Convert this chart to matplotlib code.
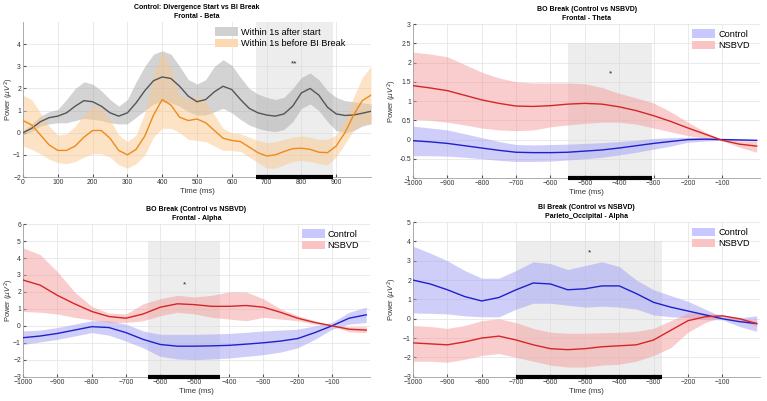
import numpy as np
import matplotlib
matplotlib.use("Agg")
import matplotlib.pyplot as plt
from matplotlib.patches import Patch

plt.rcParams['font.family'] = ['Liberation Sans', 'DejaVu Sans']

# ---------------- Panel 1 (top-left) ----------------
t1 = list(range(0, 1001, 25))
gray_mean = [0.0, 0.2, 0.5, 0.68, 0.75, 0.9, 1.2, 1.45, 1.4, 1.2, 0.9, 0.75, 0.9, 1.35, 1.9, 2.35, 2.52,
             2.45, 2.1, 1.65, 1.4, 1.5, 1.85, 2.1, 1.95, 1.5, 1.1, 0.9, 0.8, 0.75, 0.85, 1.2, 1.8, 2.0, 1.7,
             1.15, 0.85, 0.78, 0.8, 0.88, 0.97]
gray_up = [0.1, 0.4, 0.75, 0.95, 1.05, 1.5, 2.0, 2.3, 2.2, 1.9, 1.5, 1.2, 1.5, 2.3, 3.0, 3.55, 3.7, 3.55,
           3.0, 2.4, 2.2, 2.4, 3.0, 3.3, 3.05, 2.5, 2.0, 1.75, 1.6, 1.5, 1.6, 2.0, 2.5, 2.7, 2.4, 1.9, 1.6,
           1.45, 1.4, 1.35, 1.3]
gray_lo = [-0.1, 0.05, 0.3, 0.4, 0.45, 0.45, 0.55, 0.65, 0.6, 0.55, 0.45, 0.4, 0.4, 0.7, 1.0, 1.3, 1.4,
           1.35, 1.2, 0.95, 0.8, 0.8, 0.95, 1.1, 0.9, 0.6, 0.35, 0.2, 0.1, 0.05, 0.15, 0.5, 1.1, 1.3, 1.0,
           0.5, 0.1, 0.0, 0.1, 0.3, 0.4]
orange_mean = [0.55, 0.35, -0.1, -0.55, -0.8, -0.8, -0.6, -0.2, 0.1, 0.1, -0.25, -0.8, -1.0, -0.75, -0.15,
               0.8, 1.5, 1.25, 0.7, 0.55, 0.62, 0.45, 0.1, -0.25, -0.35, -0.4, -0.65, -0.9, -1.05, -1.0,
               -0.85, -0.72, -0.7, -0.75, -0.88, -0.9, -0.6, 0.0, 0.8, 1.45, 1.7]
orange_up = [1.7, 1.5, 0.9, 0.3, -0.1, -0.05, 0.3, 0.8, 1.2, 1.1, 0.6, -0.1, -0.4, -0.1, 0.9, 2.6, 3.7, 2.9,
             1.7, 1.5, 1.65, 1.4, 0.8, 0.2, 0.0, -0.05, -0.2, -0.35, -0.45, -0.4, -0.3, -0.2, -0.15, -0.2,
             -0.3, -0.3, -0.1, 0.6, 1.6, 2.5, 3.0]
orange_lo = [-0.6, -0.75, -0.95, -1.2, -1.35, -1.4, -1.3, -1.1, -0.95, -0.95, -1.1, -1.45, -1.6, -1.4, -1.0,
             -0.2, 0.2, 0.2, 0.0, -0.3, -0.35, -0.4, -0.6, -0.8, -0.8, -0.85, -1.1, -1.35, -1.6, -1.6,
             -1.45, -1.3, -1.25, -1.3, -1.4, -1.45, -1.1, -0.5, 0.1, 0.4, 0.4]

# ---------------- Panel 2 (top-right) ----------------
t2 = list(range(-1000, 1, 50))
tr_red_mean = [1.4, 1.34, 1.27, 1.15, 1.03, 0.94, 0.87, 0.86, 0.88, 0.92, 0.94, 0.92, 0.85, 0.75, 0.62,
               0.47, 0.3, 0.14, -0.02, -0.12, -0.17]
tr_red_up = [2.27, 2.22, 2.15, 1.95, 1.75, 1.6, 1.5, 1.47, 1.47, 1.47, 1.45, 1.35, 1.2, 1.08, 0.95,
             0.72, 0.45, 0.2, -0.01, -0.03, -0.05]
tr_red_lo = [0.53, 0.5, 0.45, 0.38, 0.3, 0.25, 0.23, 0.25, 0.33, 0.38, 0.42, 0.45, 0.45, 0.4, 0.3,
             0.2, 0.1, 0.03, -0.03, -0.2, -0.33]
tr_blue_mean = [-0.03, -0.06, -0.1, -0.16, -0.22, -0.28, -0.33, -0.34, -0.34, -0.33, -0.3, -0.27, -0.22,
                -0.16, -0.1, -0.05, 0.0, 0.01, 0.0, -0.01, -0.02]
tr_blue_up = [0.35, 0.3, 0.25, 0.15, 0.05, -0.05, -0.13, -0.14, -0.13, -0.12, -0.1, -0.08, -0.05, -0.02,
              0.03, 0.05, 0.06, 0.05, 0.02, 0.01, 0.0]
tr_blue_lo = [-0.42, -0.42, -0.43, -0.46, -0.5, -0.54, -0.57, -0.57, -0.56, -0.53, -0.5, -0.46, -0.4,
              -0.33, -0.25, -0.17, -0.07, -0.04, -0.02, -0.03, -0.04]

# ---------------- Panel 3 (bottom-left) ----------------
t3 = list(range(-1000, 1, 50))
bl_red_mean = [2.7, 2.4, 1.8, 1.3, 0.85, 0.55, 0.45, 0.7, 1.1, 1.3, 1.25, 1.15, 1.15, 1.2, 1.1, 0.8, 0.45,
               0.2, 0.0, -0.2, -0.25]
bl_red_up = [4.6, 4.2, 3.2, 2.0, 1.15, 0.75, 0.7, 1.3, 1.6, 1.8, 1.7, 1.8, 2.0, 2.0, 1.6, 1.0, 0.6, 0.3,
             0.02, -0.05, -0.05]
bl_red_lo = [0.85, 0.8, 0.7, 0.5, 0.35, 0.2, 0.2, 0.3, 0.6, 0.8, 0.7, 0.5, 0.4, 0.3, 0.5, 0.4, 0.3, 0.1,
             -0.02, -0.35, -0.4]
bl_blue_mean = [-0.7, -0.6, -0.45, -0.25, -0.05, -0.1, -0.4, -0.8, -1.1, -1.2, -1.2, -1.18, -1.15, -1.08,
                -1.0, -0.9, -0.75, -0.4, 0.0, 0.45, 0.65]
bl_blue_up = [-0.3, -0.25, -0.1, 0.1, 0.3, 0.3, 0.1, -0.3, -0.5, -0.5, -0.5, -0.48, -0.45, -0.38, -0.3,
              -0.25, -0.2, 0.0, 0.2, 0.8, 1.1]
bl_blue_lo = [-1.1, -0.95, -0.8, -0.6, -0.4, -0.55, -0.9, -1.3, -1.8, -1.95, -2.0, -1.95, -1.9, -1.8,
              -1.7, -1.55, -1.3, -0.8, -0.2, 0.1, 0.2]

# ---------------- Panel 4 (bottom-right) ----------------
t4 = list(range(-1000, 1, 50))
br_blue_mean = [2.0, 1.8, 1.5, 1.15, 0.92, 1.1, 1.5, 1.85, 1.8, 1.5, 1.55, 1.7, 1.7, 1.3, 0.85, 0.6, 0.4,
                0.2, 0.0, -0.15, -0.25]
br_blue_up = [3.75, 3.4, 3.0, 2.5, 2.1, 2.1, 2.5, 2.95, 2.85, 2.55, 2.75, 2.95, 2.7, 2.0, 1.5, 1.2, 0.9,
              0.5, 0.1, 0.05, 0.15]
br_blue_lo = [0.3, 0.28, 0.25, 0.15, 0.1, 0.1, 0.5, 0.8, 0.8, 0.7, 0.6, 0.65, 0.6, 0.5, 0.2, 0.1, 0.05,
              -0.05, -0.05, -0.4, -0.65]
br_red_mean = [-1.25, -1.3, -1.35, -1.2, -1.0, -0.9, -1.1, -1.35, -1.55, -1.6, -1.55, -1.45, -1.4, -1.35,
               -1.1, -0.6, -0.1, 0.1, 0.15, 0.0, -0.25]
br_red_up = [-0.35, -0.4, -0.5, -0.35, -0.1, 0.0, -0.2, -0.5, -0.7, -0.75, -0.75, -0.72, -0.7, -0.65,
             -0.5, -0.1, 0.3, 0.3, 0.2, 0.05, -0.1]
br_red_lo = [-2.2, -2.2, -2.25, -2.1, -1.9, -1.8, -2.0, -2.2, -2.4, -2.5, -2.5, -2.4, -2.35, -2.2, -1.9,
             -1.5, -0.7, -0.2, 0.1, -0.1, -0.4]

# significance windows
sig1 = (670, 890)
sig2 = (-550, -305)
sig3 = (-635, -425)
sig4 = (-700, -275)

fig = plt.figure(figsize=(7.67, 4.01), dpi=100)

GRAY_L, GRAY_B = '#555555', '#a8a8a8'
ORG_L, ORG_B = '#ee8a1a', '#fbc88e'
BLUE_L, BLUE_B = '#2020cc', '#9f9ff5'
RED_L, RED_B = '#d42626', '#f59c9c'
SIG = '#d9d9d9'


def style(ax, xlim, ylim, xticks, yticks, title, ylab_x):
    ax.set_xlim(*xlim)
    ax.set_ylim(*ylim)
    ax.set_xticks(xticks)
    ax.set_yticks(yticks)
    ax.tick_params(labelsize=4.9, length=2, direction='in', colors='#555555', pad=1.5)
    for lab in ax.get_xticklabels() + ax.get_yticklabels():
        lab.set_color('#333333')
    ax.grid(True, color='#e6e6e6', linewidth=0.6)
    ax.set_axisbelow(True)
    for s in ['top', 'right']:
        ax.spines[s].set_visible(False)
    for s in ['left', 'bottom']:
        ax.spines[s].set_color('#a0a0a0')
        ax.spines[s].set_linewidth(0.6)
    ax.set_xlabel('Time (ms)', fontsize=5.6, color='#333333', labelpad=1.5)
    ax.set_ylabel(r'Power ($\mu V^2$)', fontsize=5.4, color='#333333')
    ax.yaxis.set_label_coords(ylab_x, 0.5)
    ax.set_title(title, fontsize=5.0, fontweight='bold', pad=3, linespacing=1.45)


def sig(ax, win, ytop, ybot, star, sx, sy):
    ax.fill_between(list(win), [ybot, ybot], [ytop, ytop], color=SIG, alpha=0.45, linewidth=0, zorder=1)
    ax.plot(list(win), [ybot, ybot], color='black', linewidth=3, solid_capstyle='butt',
            clip_on=False, zorder=5)
    ax.text(sx, sy, star, fontsize=6, ha='center', va='center', color='#222222')


def leg(ax, handles, x, y):
    ax.legend(handles=handles, loc='upper right', bbox_to_anchor=(x, y), frameon=False, fontsize=6.6,
              handlelength=2.5, handleheight=1.0, handletextpad=0.3, borderaxespad=0, borderpad=0,
              labelspacing=0.25)


# Panel 1
ax1 = fig.add_axes([0.030, 0.5586, 0.4537, 0.3864])
sig(ax1, sig1, 5, -2, '**', 780, 3.1)
ax1.fill_between(t1, gray_lo, gray_up, color=GRAY_B, alpha=0.5, linewidth=0, zorder=2)
ax1.fill_between(t1, orange_lo, orange_up, color=ORG_B, alpha=0.5, linewidth=0, zorder=2)
ax1.plot(t1, gray_mean, color=GRAY_L, linewidth=1.0, zorder=3)
ax1.plot(t1, orange_mean, color=ORG_L, linewidth=1.0, zorder=3)
style(ax1, (0, 1000), (-2, 5), list(range(0, 901, 100)), list(range(-2, 5)),
      'Control: Divergence Start vs BI Break\nFrontal - Beta', -0.02)
leg(ax1, [Patch(facecolor='#d0d0d0', edgecolor='none', label='Within 1s after start'),
          Patch(facecolor='#fcd9b0', edgecolor='none', label='Within 1s before BI Break')], 0.925, 0.965)

# Panel 2
ax2 = fig.add_axes([0.5385, 0.556, 0.4525, 0.384])
sig(ax2, sig2, 2.5, -1, '*', -425, 1.7)
ax2.fill_between(t2, tr_blue_lo, tr_blue_up, color=BLUE_B, alpha=0.5, linewidth=0, zorder=2)
ax2.fill_between(t2, tr_red_lo, tr_red_up, color=RED_B, alpha=0.5, linewidth=0, zorder=2)
ax2.plot(t2, tr_blue_mean, color=BLUE_L, linewidth=1.0, zorder=3)
ax2.plot(t2, tr_red_mean, color=RED_L, linewidth=1.0, zorder=3)
style(ax2, (-1000, 10), (-1, 3), list(range(-1000, -99, 100)), list(np.arange(-1, 3.01, 0.5)),
      'BO Break (Control vs NSBVD)\nFrontal - Theta', -0.04)
ax2.set_yticklabels(['-1', '-0.5', '0', '0.5', '1', '1.5', '2', '2.5', '3'])

# Panel 3
ax3 = fig.add_axes([0.030, 0.0606, 0.452, 0.3805])
sig(ax3, sig3, 5, -3, '*', -530, 2.4)
ax3.fill_between(t3, bl_blue_lo, bl_blue_up, color=BLUE_B, alpha=0.5, linewidth=0, zorder=2)
ax3.fill_between(t3, bl_red_lo, bl_red_up, color=RED_B, alpha=0.5, linewidth=0, zorder=2)
ax3.plot(t3, bl_blue_mean, color=BLUE_L, linewidth=1.0, zorder=3)
ax3.plot(t3, bl_red_mean, color=RED_L, linewidth=1.0, zorder=3)
style(ax3, (-1000, 10), (-3, 6), list(range(-1000, -99, 100)), list(range(-3, 7)),
      'BO Break (Control vs NSBVD)\nFrontal - Alpha', -0.02)

# Panel 4
ax4 = fig.add_axes([0.5385, 0.0606, 0.4525, 0.3854])
sig(ax4, sig4, 4, -3, '*', -485, 3.4)
ax4.fill_between(t4, br_blue_lo, br_blue_up, color=BLUE_B, alpha=0.5, linewidth=0, zorder=2)
ax4.fill_between(t4, br_red_lo, br_red_up, color=RED_B, alpha=0.5, linewidth=0, zorder=2)
ax4.plot(t4, br_blue_mean, color=BLUE_L, linewidth=1.0, zorder=3)
ax4.plot(t4, br_red_mean, color=RED_L, linewidth=1.0, zorder=3)
style(ax4, (-1000, 10), (-3, 5), list(range(-1000, -99, 100)), list(range(-3, 6)),
      'BI Break (Control vs NSBVD)\nParieto_Occipital - Alpha', -0.04)

for ax in (ax2, ax3, ax4):
    leg(ax, [Patch(facecolor='#c8c8ff', edgecolor='none', label='Control'),
             Patch(facecolor='#fbc4c4', edgecolor='none', label='NSBVD')], 0.97, 0.965)

fig.savefig('out.png', dpi=100)
